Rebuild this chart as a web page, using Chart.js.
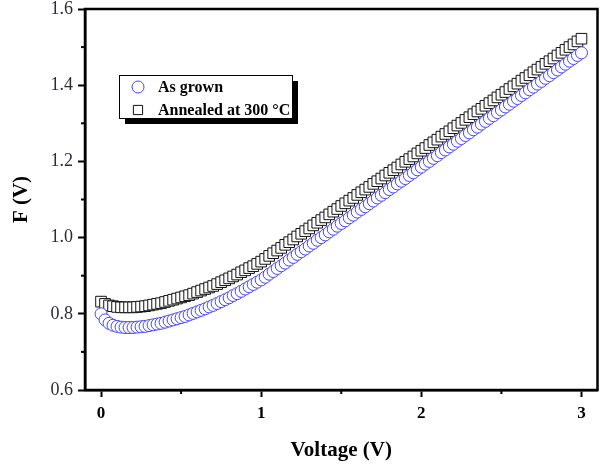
<!DOCTYPE html>
<html>
<head>
<meta charset="utf-8">
<script src="https://cdn.jsdelivr.net/npm/chart.js@4"></script>
<style>
  html, body { margin: 0; padding: 0; background: #fff; }
  #wrap { width: 606px; height: 466px; position: relative; }
</style>
</head>
<body>
<div id="wrap"><canvas id="chart"></canvas></div>
<script>
// voltage (V), one point every 0.025 V
const voltage = [
  0.000, 0.025, 0.050, 0.075, 0.100, 0.125, 0.150, 0.175, 0.200, 0.225,
  0.250, 0.275, 0.300, 0.325, 0.350, 0.375, 0.400, 0.425, 0.450, 0.475,
  0.500, 0.525, 0.550, 0.575, 0.600, 0.625, 0.650, 0.675, 0.700, 0.725,
  0.750, 0.775, 0.800, 0.825, 0.850, 0.875, 0.900, 0.925, 0.950, 0.975,
  1.000, 1.025, 1.050, 1.075, 1.100, 1.125, 1.150, 1.175, 1.200, 1.225,
  1.250, 1.275, 1.300, 1.325, 1.350, 1.375, 1.400, 1.425, 1.450, 1.475,
  1.500, 1.525, 1.550, 1.575, 1.600, 1.625, 1.650, 1.675, 1.700, 1.725,
  1.750, 1.775, 1.800, 1.825, 1.850, 1.875, 1.900, 1.925, 1.950, 1.975,
  2.000, 2.025, 2.050, 2.075, 2.100, 2.125, 2.150, 2.175, 2.200, 2.225,
  2.250, 2.275, 2.300, 2.325, 2.350, 2.375, 2.400, 2.425, 2.450, 2.475,
  2.500, 2.525, 2.550, 2.575, 2.600, 2.625, 2.650, 2.675, 2.700, 2.725,
  2.750, 2.775, 2.800, 2.825, 2.850, 2.875, 2.900, 2.925, 2.950, 2.975,
  3.000
];

// F(V) for the as-grown sample
const asGrown = [
  0.800, 0.784, 0.775, 0.770, 0.767, 0.765, 0.764, 0.764, 0.764, 0.765,
  0.766, 0.767, 0.769, 0.771, 0.773, 0.775, 0.778, 0.781, 0.784, 0.787,
  0.790, 0.793, 0.797, 0.801, 0.805, 0.809, 0.813, 0.818, 0.822, 0.827,
  0.832, 0.837, 0.842, 0.848, 0.853, 0.859, 0.865, 0.871, 0.877, 0.883,
  0.889, 0.896, 0.904, 0.911, 0.919, 0.926, 0.933, 0.941, 0.948, 0.956,
  0.963, 0.970, 0.978, 0.985, 0.993, 1.000, 1.007, 1.015, 1.022, 1.030,
  1.037, 1.044, 1.052, 1.059, 1.067, 1.074, 1.081, 1.089, 1.096, 1.104,
  1.111, 1.118, 1.126, 1.133, 1.141, 1.148, 1.155, 1.163, 1.170, 1.178,
  1.185, 1.193, 1.200, 1.208, 1.215, 1.223, 1.230, 1.238, 1.245, 1.253,
  1.260, 1.268, 1.275, 1.283, 1.290, 1.298, 1.305, 1.313, 1.320, 1.328,
  1.335, 1.343, 1.350, 1.358, 1.365, 1.373, 1.380, 1.388, 1.395, 1.403,
  1.410, 1.418, 1.425, 1.433, 1.440, 1.448, 1.455, 1.463, 1.470, 1.478,
  1.485
];

// F(V) after annealing at 300 °C
const annealed = [
  0.832, 0.826, 0.822, 0.820, 0.818, 0.817, 0.817, 0.817, 0.817, 0.818,
  0.819, 0.820, 0.822, 0.824, 0.826, 0.828, 0.831, 0.834, 0.837, 0.840,
  0.843, 0.846, 0.849, 0.853, 0.857, 0.861, 0.865, 0.869, 0.873, 0.878,
  0.883, 0.888, 0.893, 0.898, 0.903, 0.909, 0.914, 0.920, 0.925, 0.931,
  0.937, 0.944, 0.952, 0.959, 0.966, 0.973, 0.981, 0.988, 0.995, 1.003,
  1.010, 1.017, 1.024, 1.032, 1.039, 1.046, 1.053, 1.061, 1.068, 1.075,
  1.083, 1.090, 1.097, 1.104, 1.112, 1.119, 1.126, 1.133, 1.141, 1.148,
  1.155, 1.163, 1.170, 1.177, 1.184, 1.192, 1.199, 1.206, 1.213, 1.221,
  1.228, 1.235, 1.243, 1.250, 1.257, 1.265, 1.272, 1.279, 1.287, 1.294,
  1.301, 1.309, 1.316, 1.324, 1.331, 1.338, 1.346, 1.353, 1.360, 1.368,
  1.375, 1.382, 1.390, 1.397, 1.404, 1.412, 1.419, 1.426, 1.434, 1.441,
  1.448, 1.456, 1.463, 1.470, 1.478, 1.485, 1.493, 1.500, 1.507, 1.515,
  1.522
];

const seriesLabels = ['As grown', 'Annealed at 300 °C'];
const xTicks = [0, 1, 2, 3];
const xMinorTicks = [0.5, 1.5, 2.5];
const yTicks = [0.6, 0.8, 1.0, 1.2, 1.4, 1.6];
const yMinorTicks = [0.7, 0.9, 1.1, 1.3, 1.5];

const serif = '"Liberation Serif", "Times New Roman", serif';

function points(ys) {
  return voltage.map((v, i) => ({ x: v, y: ys[i] }));
}

// frame, minor ticks and the boxed legend
const decorPlugin = {
  id: 'decor',
  afterDraw(chart) {
    const ctx = chart.ctx;
    const a = chart.chartArea;
    const xs = chart.scales.x, ys = chart.scales.y;
    ctx.save();
    ctx.strokeStyle = '#000';
    ctx.lineWidth = 2;
    xMinorTicks.forEach(v => {
      const px = xs.getPixelForValue(v);
      ctx.beginPath(); ctx.moveTo(px, a.bottom); ctx.lineTo(px, a.bottom + 4); ctx.stroke();
    });
    yMinorTicks.forEach(v => {
      const py = ys.getPixelForValue(v);
      ctx.beginPath(); ctx.moveTo(a.left, py); ctx.lineTo(a.left - 4, py); ctx.stroke();
    });
    ctx.lineWidth = 2.5;
    ctx.strokeRect(a.left, a.top, a.right - a.left, a.bottom - a.top);

    // legend box with drop shadow
    const bx = 119, by = 75, bw = 173, bh = 43;
    ctx.fillStyle = '#000';
    ctx.fillRect(bx + 6, by + 6, bw, bh);
    ctx.fillStyle = '#fff';
    ctx.fillRect(bx, by, bw, bh);
    ctx.lineWidth = 1;
    ctx.strokeRect(bx + 0.5, by + 0.5, bw, bh);
    ctx.font = 'bold 16px ' + serif;
    ctx.textBaseline = 'middle';
    chart.data.datasets.forEach((ds, i) => {
      const cy = by + 12 + i * 23;
      ctx.strokeStyle = ds.borderColor;
      ctx.fillStyle = '#fff';
      ctx.lineWidth = ds.borderWidth;
      Chart.helpers.drawPoint(ctx, { pointStyle: ds.pointStyle, radius: ds.legendRadius, borderWidth: ds.borderWidth, rotation: 0 }, 138, cy);
      ctx.fillStyle = '#000';
      ctx.fillText(ds.label, 158, cy + 1);
    });
    ctx.restore();
  }
};

new Chart(document.getElementById('chart'), {
  type: 'scatter',
  data: {
    datasets: [
      {
        label: seriesLabels[0],
        data: points(asGrown),
        pointStyle: 'circle',
        pointRadius: 6,
        legendRadius: 6,
        borderWidth: 1,
        borderColor: '#4444ff',
        backgroundColor: '#ffffff'
      },
      {
        label: seriesLabels[1],
        data: points(annealed),
        pointStyle: 'rect',
        pointRadius: 7.5,
        legendRadius: 6.5,
        borderWidth: 1,
        borderColor: '#111111',
        backgroundColor: '#ffffff'
      }
    ]
  },
  options: {
    responsive: true,
    maintainAspectRatio: false,
    animation: false,
    events: [],
    layout: { padding: { top: 9, right: 8, left: 0, bottom: 0 } },
    plugins: { legend: { display: false }, tooltip: { enabled: false } },
    scales: {
      x: {
        type: 'linear',
        min: -0.1,
        max: 3.1,
        afterBuildTicks(scale) { scale.ticks = xTicks.map(v => ({ value: v })); },
        afterFit(scale) { scale.height = 76; scale.paddingLeft = 0; scale.paddingRight = 0; },
        border: { display: true, color: '#000', width: 2.5 },
        grid: { drawOnChartArea: false, drawTicks: true, tickLength: 7, tickWidth: 2, tickColor: '#000' },
        ticks: {
          padding: 6,
          color: '#000',
          font: { family: serif, size: 17, weight: 'bold' },
          callback: v => String(v)
        },
        title: {
          display: true,
          text: 'Voltage (V)',
          color: '#000',
          font: { family: serif, size: 21, weight: 'bold' },
          padding: { top: 0, bottom: 3 }
        }
      },
      y: {
        type: 'linear',
        min: 0.6,
        max: 1.6,
        afterBuildTicks(scale) { scale.ticks = yTicks.map(v => ({ value: v })); },
        afterFit(scale) { scale.width = 85; scale.paddingTop = 0; scale.paddingBottom = 0; },
        border: { display: true, color: '#000', width: 2.5 },
        grid: { drawOnChartArea: false, drawTicks: true, tickLength: 7, tickWidth: 2, tickColor: '#000' },
        ticks: {
          padding: 5,
          color: '#2b2b3a',
          font: { family: serif, size: 18 },
          callback: v => v.toFixed(1)
        },
        title: {
          display: true,
          text: 'F (V)',
          color: '#000',
          font: { family: serif, size: 21, weight: 'bold' },
          padding: { top: 9, bottom: 0 }
        }
      }
    }
  },
  plugins: [decorPlugin]
});
</script>
</body>
</html>
